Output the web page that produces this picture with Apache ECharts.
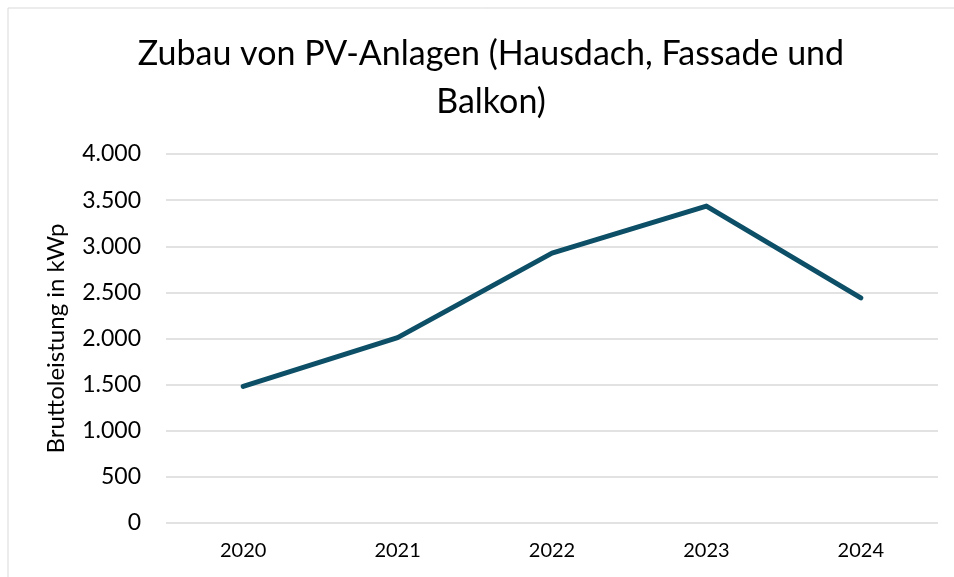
<!DOCTYPE html>
<html>
<head>
<meta charset="utf-8">
<script src="https://cdn.jsdelivr.net/npm/echarts@6/dist/echarts.min.js"></script>
<style>
    html, body { margin: 0; padding: 0; background: #fff; }
    #chart { width: 954px; height: 577px; }
</style>
</head>
<body>
<div id="chart"></div>
<script>
var years = ['2020', '2021', '2022', '2023', '2024'];
var leistung = [1480, 2010, 2925, 3435, 2440];
var titleText = 'Zubau von PV-Anlagen (Hausdach, Fassade und\nBalkon)';
var yName = 'Bruttoleistung in kWp';

var chart = echarts.init(document.getElementById('chart'));

function fmt(v) {
    return String(v).replace(/\B(?=(\d{3})+(?!\d))/g, '.');
}

var option = {
    backgroundColor: '#fff',
    animation: false,
    graphic: [{
        type: 'rect',
        shape: {x: 8, y: 8, width: 960, height: 580},
        style: {fill: 'none', stroke: '#d9d9d9', lineWidth: 1}
    }],
    title: {
        text: titleText,
        left: 486,
        textAlign: 'center',
        top: 25,
        textStyle: {
            fontFamily: 'Lato',
            fontWeight: 'normal',
            fontSize: 34,
            lineHeight: 48,
            color: '#000'
        }
    },
    grid: {
        left: 166,
        right: 16,
        top: 154,
        bottom: 54
    },
    xAxis: {
        type: 'category',
        data: years,
        boundaryGap: true,
        axisLine: {show: false},
        axisTick: {show: false},
        axisLabel: {
            margin: 18,
            fontFamily: 'Lato',
            fontSize: 20,
            color: '#000'
        }
    },
    yAxis: {
        type: 'value',
        min: 0,
        max: 4000,
        interval: 500,
        name: yName,
        nameLocation: 'middle',
        nameGap: 98,
        nameTextStyle: {
            fontFamily: 'Lato',
            fontSize: 24,
            color: '#000'
        },
        axisLine: {show: false},
        axisTick: {show: false},
        axisLabel: {
            margin: 25,
            fontFamily: 'Lato',
            fontSize: 23,
            color: '#000',
            formatter: fmt
        },
        splitLine: {
            lineStyle: {color: '#d9d9d9', width: 1.5}
        }
    },
    series: [{
        type: 'line',
        data: leistung,
        symbol: 'none',
        lineStyle: {color: '#0d4f66', width: 5, cap: 'round', join: 'round'}
    }]
};

chart.setOption(option);
</script>
</body>
</html>
